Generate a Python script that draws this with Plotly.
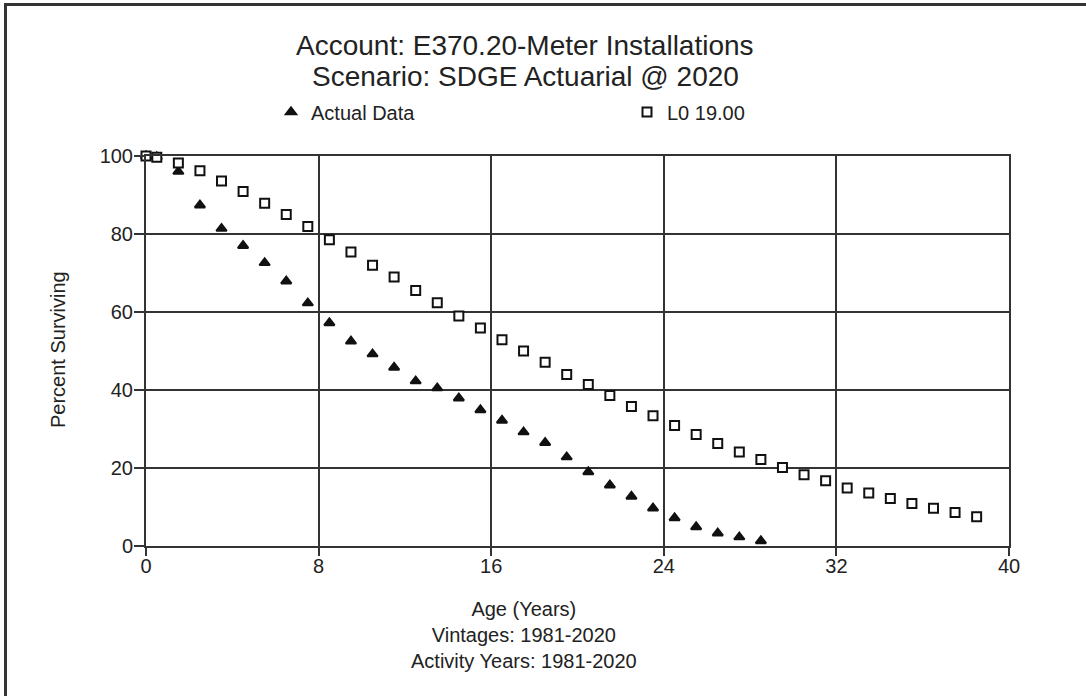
import plotly.graph_objects as go

# Survival curve data (percent surviving by age in years)
actual_ages = [0, 0.5, 1.5, 2.5, 3.5, 4.5, 5.5, 6.5, 7.5, 8.5, 9.5, 10.5, 11.5, 12.5,
               13.5, 14.5, 15.5, 16.5, 17.5, 18.5, 19.5, 20.5, 21.5, 22.5, 23.5, 24.5,
               25.5, 26.5, 27.5, 28.5]
actual_pct = [100, 99.8, 96.0, 87.4, 81.4, 77.0, 72.6, 67.9, 62.3, 57.2, 52.5, 49.2, 45.8,
              42.3, 40.5, 37.9, 34.9, 32.2, 29.2, 26.5, 22.8, 19.0, 15.6, 12.7, 9.7, 7.2,
              4.9, 3.3, 2.3, 1.3]

curve_ages = [0, 0.5, 1.5, 2.5, 3.5, 4.5, 5.5, 6.5, 7.5, 8.5, 9.5, 10.5, 11.5, 12.5,
              13.5, 14.5, 15.5, 16.5, 17.5, 18.5, 19.5, 20.5, 21.5, 22.5, 23.5, 24.5,
              25.5, 26.5, 27.5, 28.5, 29.5, 30.5, 31.5, 32.5, 33.5, 34.5, 35.5, 36.5,
              37.5, 38.5]
curve_pct = [100, 99.7, 98.2, 96.2, 93.6, 90.9, 87.9, 85.0, 81.9, 78.5, 75.4, 72.0, 69.0,
             65.5, 62.4, 59.0, 55.9, 52.9, 50.0, 47.1, 44.0, 41.4, 38.6, 35.8, 33.4, 30.9,
             28.6, 26.3, 24.1, 22.2, 20.1, 18.3, 16.7, 14.9, 13.6, 12.2, 10.9, 9.7, 8.6, 7.5]

x_ticks = [0, 8, 16, 24, 32, 40]
y_ticks = [0, 20, 40, 60, 80, 100]

FONT = "Liberation Sans, Arial, sans-serif"
INK = "#222222"
GRID = "#333333"

fig = go.Figure()
fig.add_trace(go.Scatter(
    x=actual_ages, y=actual_pct, mode="markers", name="Actual Data",
    marker=dict(symbol="triangle-up", size=9, color="#111111",
                line=dict(color="#111111", width=2)),
    cliponaxis=False,
))
# Fitted curve: white-filled squares drawn over the actual data
fig.add_trace(go.Scatter(
    x=curve_ages, y=curve_pct, mode="markers", name="L0 19.00",
    marker=dict(symbol="square", size=9, color="white",
                line=dict(color="#111111", width=2)),
    cliponaxis=False,
))

L, R, T, B = 146, 77, 156, 150
W, H = 1086, 696
pw, ph = W - L - R, H - T - B

def px(xpix):
    return (xpix - L) / pw

def py(ypix):
    return (H - B - ypix) / ph

axis_common = dict(
    showgrid=True, gridcolor=GRID, gridwidth=2,
    showline=True, linecolor=GRID, linewidth=2, mirror=True,
    ticks="outside", tickcolor=GRID, tickwidth=2,
    tickfont=dict(family=FONT, size=20, color=INK),
    zeroline=False, fixedrange=True,
)

fig.update_layout(
    width=W, height=H,
    margin=dict(l=L, r=R, t=T, b=B),
    paper_bgcolor="white", plot_bgcolor="white",
    font=dict(family=FONT, size=20, color=INK),
    xaxis=dict(range=[0, 40], tickvals=x_ticks, ticklen=8, ticklabelstandoff=-7,
               **axis_common),
    yaxis=dict(range=[0, 100], tickvals=y_ticks, ticklen=10, ticklabelstandoff=-3,
               **axis_common),
    showlegend=True,
    legend=dict(
        orientation="h", x=px(271), xanchor="left", y=py(112), yanchor="middle",
        font=dict(family=FONT, size=20, color=INK),
        entrywidth=311, entrywidthmode="pixels",
        bgcolor="rgba(0,0,0,0)", itemclick=False, itemdoubleclick=False,
    ),
)

annotations = [
    dict(text="Account: E370.20-Meter Installations", x=px(525), y=py(46),
         font=dict(size=28)),
    dict(text="Scenario: SDGE Actuarial @ 2020", x=px(525), y=py(76),
         font=dict(size=28)),
    dict(text="Percent Surviving", x=px(58), y=py(350), textangle=-90,
         font=dict(size=20)),
    dict(text="Age (Years)<br>Vintages: 1981-2020<br>Activity Years: 1981-2020",
         x=px(524), y=py(635), font=dict(size=20)),
]
for a in annotations:
    a.update(xref="paper", yref="paper", xanchor="center", yanchor="middle",
             showarrow=False)
    a["font"].update(family=FONT, color=INK)
fig.update_layout(annotations=annotations)

# Outer frame: top and left edges
fig.add_shape(type="line", xref="paper", yref="paper",
              x0=px(5), x1=px(W + 5), y0=py(4.5), y1=py(4.5),
              line=dict(color="#333333", width=3))
fig.add_shape(type="line", xref="paper", yref="paper",
              x0=px(5.5), x1=px(5.5), y0=py(3), y1=py(H + 5),
              line=dict(color="#333333", width=3))

fig.write_html("out.html")
